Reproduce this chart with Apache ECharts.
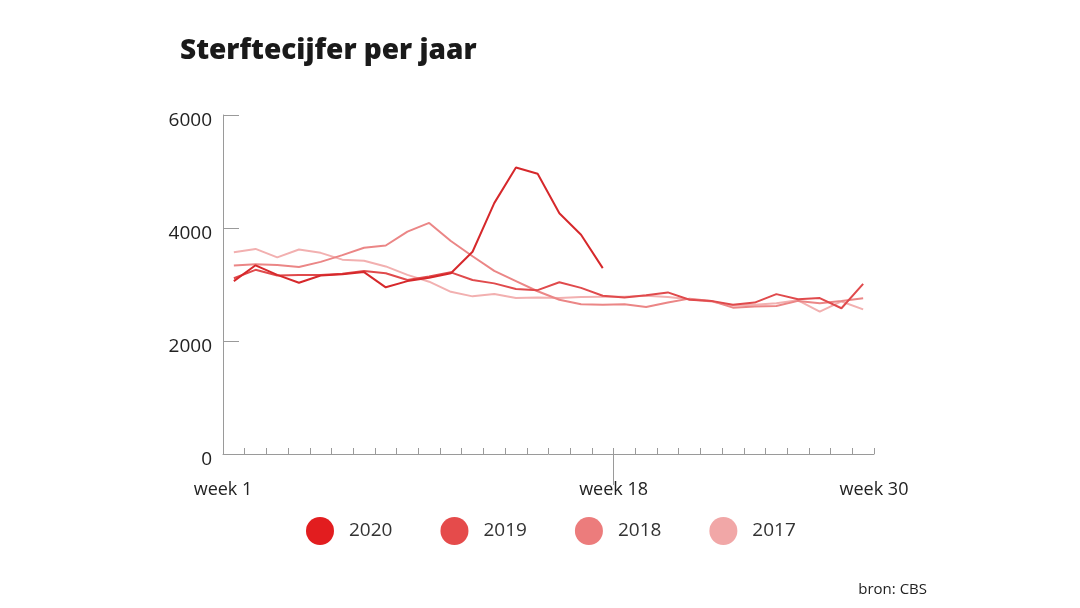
<!DOCTYPE html>
<html>
<head>
<meta charset="utf-8">
<script src="https://cdn.jsdelivr.net/npm/echarts@6/dist/echarts.min.js"></script>
<style>
  html, body { margin: 0; padding: 0; background: #ffffff; }
  #chart { width: 1080px; height: 608px; }
</style>
</head>
<body>
<div id="chart"></div>
<script>
// ---- data ----
var weeks = ['1','2','3','4','5','6','7','8','9','10','11','12','13','14','15','16','17','18','19','20','21','22','23','24','25','26','27','28','29','30'];
var years = ['2020', '2019', '2018', '2017'];
var deaths2020 = [3060, 3340, 3170, 3030, 3160, 3180, 3220, 2950, 3060, 3120, 3200, 3580, 4440, 5070, 4960, 4260, 3880, 3290];
var deaths2019 = [3110, 3260, 3160, 3170, 3170, 3190, 3240, 3200, 3080, 3140, 3215, 3080, 3020, 2920, 2900, 3040, 2940, 2800, 2770, 2810, 2860, 2730, 2710, 2640, 2680, 2830, 2740, 2760, 2580, 3010];
var deaths2018 = [3335, 3360, 3345, 3310, 3400, 3520, 3650, 3690, 3935, 4090, 3770, 3500, 3240, 3060, 2880, 2730, 2650, 2640, 2650, 2600, 2680, 2750, 2710, 2590, 2610, 2620, 2710, 2670, 2710, 2755];
var deaths2017 = [3570, 3630, 3480, 3620, 3560, 3440, 3420, 3320, 3170, 3050, 2870, 2790, 2830, 2760, 2770, 2760, 2780, 2785, 2785, 2800, 2780, 2740, 2700, 2630, 2640, 2670, 2720, 2520, 2700, 2560];
var weekTickValues = [0, 18, 30];
var weekTickLabels = ['week 1', 'week 18', 'week 30'];
var yTicks = [0, 2000, 4000, 6000];

var lineColors = { '2020': '#d6282b', '2019': '#e04a4c', '2018': '#eb8686', '2017': '#f2b0b0' };
var legendColors = { '2020': '#e21d1f', '2019': '#e54b4b', '2018': '#ec7c7c', '2017': '#f1a7a7' };
var seriesData = { '2020': deaths2020, '2019': deaths2019, '2018': deaths2018, '2017': deaths2017 };

var FONT = '"Open Sans", Lato, sans-serif';

var series = years.slice().reverse().map(function (y, i) {
  return {
    name: y,
    type: 'line',
    xAxisIndex: 0,
    yAxisIndex: 0,
    data: seriesData[y],
    symbol: 'none',
    smooth: false,
    lineStyle: { color: lineColors[y], width: 2 },
    itemStyle: { color: legendColors[y] },
    z: 10 + i
  };
});

var chart = echarts.init(document.getElementById('chart'), null, { renderer: 'canvas' });
chart.setOption({
  backgroundColor: '#ffffff',
  animation: false,
  title: {
    text: 'Sterftecijfer per jaar',
    left: 175,
    top: 32,
    textStyle: { fontFamily: FONT, fontWeight: 800, fontSize: 28, color: '#1a1a1a' }
  },
  graphic: [{
    type: 'text',
    right: 153,
    top: 582,
    style: { text: 'bron: CBS', font: '15px ' + FONT, fill: '#222' }
  }],
  legend: {
    data: years,
    left: 301,
    top: 512,
    icon: 'circle',
    itemWidth: 28,
    itemHeight: 28,
    itemGap: 48,
    textStyle: { fontFamily: FONT, fontSize: 19, color: '#333', padding: [0, 0, 0, 10] }
  },
  grid: { left: 223, right: 206, top: 115, bottom: 154, containLabel: false },
  xAxis: [{
    type: 'category',
    data: weeks,
    boundaryGap: true,
    axisLine: { show: true, lineStyle: { color: '#9a9a9a', width: 1 } },
    axisTick: { show: true, inside: true, length: 6, interval: 0, lineStyle: { color: '#9a9a9a' } },
    axisLabel: { show: false },
    splitLine: { show: false }
  }, {
    type: 'value',
    min: 0,
    max: 30,
    position: 'bottom',
    axisLine: { show: false },
    axisTick: { show: true, customValues: [18], length: 31, lineStyle: { color: '#9a9a9a' } },
    axisLabel: {
      show: true,
      customValues: weekTickValues,
      margin: 27,
      fontFamily: FONT,
      fontSize: 18,
      color: '#222',
      formatter: function (v) { return weekTickLabels[weekTickValues.indexOf(v)] || ''; }
    },
    splitLine: { show: false }
  }],
  yAxis: {
    type: 'value',
    min: yTicks[0],
    max: yTicks[yTicks.length - 1],
    interval: 2000,
    axisLine: { show: true, lineStyle: { color: '#9a9a9a', width: 1 } },
    axisTick: { show: true, inside: true, length: 16, lineStyle: { color: '#9a9a9a' } },
    axisLabel: {
      margin: 11, fontFamily: FONT, fontSize: 19, color: '#222',
      verticalAlign: 'top',
      lineHeight: 12,
      formatter: function (v) { return String(v); }
    },
    splitLine: { show: false }
  },
  series: series
});
</script>
</body>
</html>
